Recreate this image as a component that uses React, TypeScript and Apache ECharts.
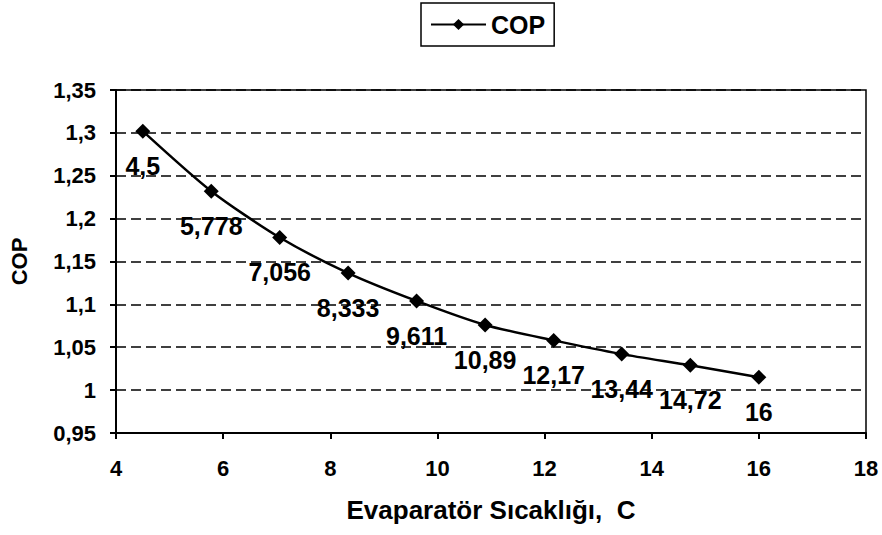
import React, { useEffect, useRef } from "react";
import * as echarts from "echarts";

const xValues = [4.5, 5.778, 7.056, 8.333, 9.611, 10.89, 12.17, 13.44, 14.72, 16];
const copValues = [1.302, 1.232, 1.178, 1.1365, 1.104, 1.076, 1.058, 1.042, 1.029, 1.015];
const seriesName = "COP";
const xAxisTitle = "Evaparatör Sıcaklığı,  C";
const yAxisTitle = "COP";

const FONT = "'Liberation Sans', Arial, sans-serif";

function comma(v: number): string {
  return String(parseFloat(v.toFixed(3))).replace(".", ",");
}

export default function App() {
  const ref = useRef<HTMLDivElement>(null);
  useEffect(() => {
    if (!ref.current) return;
    const chart = echarts.init(ref.current, null, { renderer: "svg" });
    const data = xValues.map((x, i) => [x, copValues[i]]);
    chart.setOption({
      animation: false,
      backgroundColor: "#fff",
      textStyle: { fontFamily: FONT },
      legend: {
        data: [seriesName],
        left: 421,
        top: 3,
        padding: [9, 9],
        itemWidth: 55,
        itemHeight: 14,
        itemGap: 6,
        borderColor: "#000",
        borderWidth: 1.5,
        textStyle: { fontFamily: FONT, fontWeight: "bold", fontSize: 25, color: "#000" },
      },
      grid: {
        left: 111,
        right: 16,
        top: 90,
        bottom: 102,
        show: true,
        borderColor: "#000",
        borderWidth: 1.5,
      },
      xAxis: {
        type: "value",
        min: 4,
        max: 18,
        interval: 2,
        name: xAxisTitle,
        nameLocation: "middle",
        nameGap: 64,
        nameTextStyle: { fontFamily: FONT, fontWeight: "bold", fontSize: 26, color: "#000" },
        axisLine: { show: true, lineStyle: { color: "#000", width: 2 } },
        axisTick: { show: true, length: 6, lineStyle: { color: "#000", width: 2 } },
        axisLabel: { fontFamily: FONT, fontWeight: "bold", fontSize: 22, color: "#000", margin: 24 },
        splitLine: { show: false },
      },
      yAxis: {
        type: "value",
        min: 0.95,
        max: 1.35,
        interval: 0.05,
        name: yAxisTitle,
        nameLocation: "middle",
        nameGap: 86,
        nameTextStyle: { fontFamily: FONT, fontWeight: "bold", fontSize: 22, color: "#000" },
        axisLine: { show: true, lineStyle: { color: "#000", width: 2 } },
        axisTick: { show: true, length: 6, lineStyle: { color: "#000", width: 2 } },
        axisLabel: {
          fontFamily: FONT,
          fontWeight: "bold",
          fontSize: 22,
          color: "#000",
          margin: 20,
          formatter: (v: number) => String(parseFloat(v.toFixed(2))).replace(".", ","),
        },
        splitLine: { show: true, lineStyle: { color: "#000", type: [10, 5], width: 1.5 } },
      },
      series: [
        {
          name: seriesName,
          type: "line",
          data,
          smooth: 0.25,
          symbol: "diamond",
          symbolSize: 15,
          lineStyle: { color: "#000", width: 2.5 },
          itemStyle: { color: "#000" },
          label: {
            show: true,
            position: "bottom",
            distance: 15,
            fontFamily: FONT,
            fontWeight: "bold",
            fontSize: 25,
            color: "#000",
            formatter: (p: any) => comma(p.value[0]),
          },
        },
      ],
    });
    return () => chart.dispose();
  }, []);
  return <div ref={ref} style={{ width: 882, height: 535, position: "absolute", left: 0, top: 0 }} />;
}
